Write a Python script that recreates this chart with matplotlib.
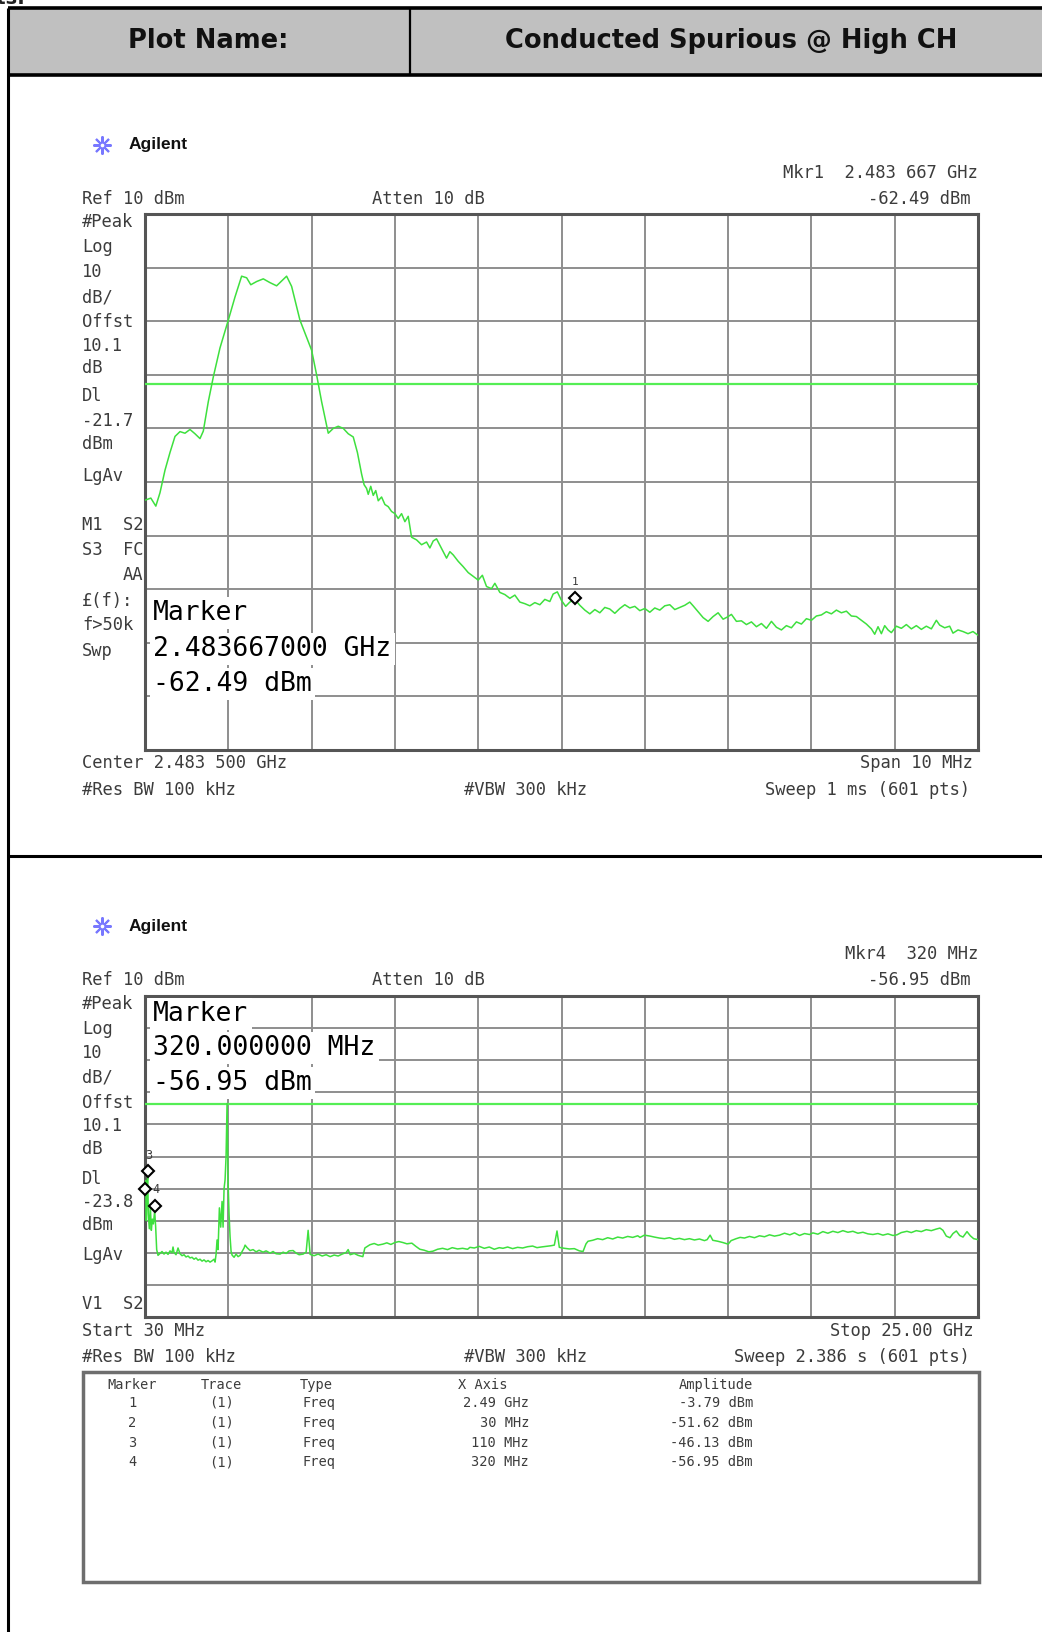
import numpy as np
import matplotlib
matplotlib.use("Agg")
import matplotlib.pyplot as plt
from matplotlib.patches import Rectangle
from matplotlib.transforms import offset_copy

W, H = 1042, 1632

# ---------------- data ----------------
header_left = "Plot Name:"
header_right = "Conducted Spurious @ High CH"

# Plot 1 : zoomed band edge, center 2483.5 MHz, span 10 MHz
p1_center_mhz = 2483.5
p1_span_mhz = 10.0
p1_offset_mhz = [0.00, 0.07, 0.13, 0.18, 0.24, 0.30, 0.36, 0.42, 0.48, 0.54, 0.60, 0.66, 0.70,
                 0.76, 0.82, 0.90, 1.00, 1.08, 1.16, 1.22, 1.27, 1.34, 1.42, 1.50, 1.58, 1.64,
                 1.70, 1.76, 1.86, 1.94, 2.00, 2.06, 2.12, 2.20, 2.26, 2.32, 2.38, 2.44, 2.50,
                 2.55, 2.60, 2.63, 2.66, 2.68, 2.71, 2.74, 2.77, 2.80, 2.84, 2.88, 2.92, 2.96,
                 3.00, 3.04, 3.08, 3.12, 3.16, 3.20, 3.26, 3.32, 3.38, 3.42, 3.46, 3.50, 3.56,
                 3.62, 3.66, 3.70, 3.76, 3.82, 3.88, 3.94, 4.00, 4.05, 4.10, 4.16, 4.20, 4.26,
                 4.32, 4.38, 4.44, 4.50, 4.56, 4.62, 4.68, 4.74, 4.80, 4.86, 4.90, 4.95, 5.00,
                 5.05, 5.10, 5.16, 5.22, 5.28, 5.34, 5.40, 5.46, 5.52, 5.58, 5.64, 5.70, 5.76,
                 5.82, 5.88, 5.94, 6.00, 6.06, 6.12, 6.18, 6.24, 6.30, 6.36, 6.42, 6.48, 6.54,
                 6.58, 6.64, 6.70, 6.76, 6.82, 6.88, 6.94, 6.99, 7.04, 7.10, 7.16, 7.22, 7.28,
                 7.34, 7.40, 7.46, 7.52, 7.58, 7.64, 7.70, 7.76, 7.82, 7.88, 7.94, 8.00, 8.06,
                 8.12, 8.18, 8.24, 8.30, 8.36, 8.42, 8.48, 8.54, 8.60, 8.66, 8.72, 8.76, 8.80,
                 8.84, 8.88, 8.92, 8.96, 9.02, 9.08, 9.14, 9.20, 9.26, 9.32, 9.38, 9.44, 9.50,
                 9.54, 9.60, 9.66, 9.70, 9.76, 9.82, 9.88, 9.94, 10.00]
p1_dbm = [-43.4, -43.0, -44.5, -42.0, -37.8, -34.5, -31.5, -30.6, -30.9, -30.2, -31.0, -31.9, -30.5,
          -25.0, -20.4, -15.0, -9.8, -5.5, -1.6, -1.9, -3.2, -2.6, -2.1, -2.8, -3.4, -2.5,
          -1.6, -3.5, -9.8, -13.0, -15.4, -20.0, -25.0, -30.9, -30.0, -29.6, -30.0, -31.0, -31.6,
          -34.5, -38.5, -40.5, -41.2, -42.3, -40.8, -42.5, -41.6, -43.5, -42.8, -44.2, -44.6, -45.5,
          -45.9, -46.8, -45.9, -47.4, -46.4, -50.3, -50.8, -51.7, -51.2, -52.3, -51.0, -50.6, -52.4,
          -54.2, -53.0, -53.6, -54.8, -55.8, -56.9, -57.6, -58.3, -57.4, -59.5, -59.9, -58.9, -60.6,
          -61.0, -61.7, -61.1, -62.4, -62.7, -63.1, -62.5, -62.9, -61.9, -62.3, -60.9, -60.5, -62.1,
          -63.2, -62.4, -61.9, -63.0, -63.9, -64.6, -63.8, -64.4, -63.4, -63.7, -64.5, -63.6, -62.9,
          -63.5, -63.2, -64.0, -63.6, -64.3, -63.5, -63.9, -63.1, -62.9, -63.8, -63.4, -63.0, -62.4,
          -63.1, -64.2, -65.3, -66.0, -65.1, -64.4, -65.6, -65.2, -64.7, -66.0, -65.9, -66.6, -66.1,
          -67.0, -66.4, -67.3, -66.0, -67.1, -67.6, -66.8, -67.2, -66.1, -66.5, -65.5, -65.8, -65.0,
          -64.8, -64.2, -64.6, -63.9, -64.4, -64.1, -65.0, -65.1, -65.8, -66.5, -67.4, -68.4, -67.0,
          -68.3, -66.8, -67.6, -68.1, -66.9, -67.3, -66.6, -67.4, -66.8, -67.5, -66.9, -67.4, -65.8,
          -66.7, -67.2, -66.9, -68.2, -67.6, -67.9, -68.3, -67.9, -68.6]
p1_display_line = -21.7
p1_marker_mhz = 2483.667
p1_marker_dbm = -62.49

# Plot 2 : 30 MHz - 25 GHz sweep
p2_start_ghz = 0.03
p2_stop_ghz = 25.0
p2_freq_ghz = [0.03, 0.05, 0.07, 0.09, 0.11, 0.13, 0.16, 0.19, 0.22, 0.25, 0.28, 0.32, 0.35, 0.38,
               0.42, 0.48, 0.54, 0.60, 0.66, 0.72, 0.78, 0.84, 0.87, 0.90, 0.96, 1.02, 1.08, 1.14,
               1.20, 1.26, 1.32, 1.38, 1.44, 1.50, 1.56, 1.62, 1.68, 1.74, 1.80, 1.86, 1.92, 1.98,
               2.04, 2.10, 2.13, 2.16, 2.19, 2.22, 2.26, 2.30, 2.34, 2.37, 2.40, 2.43, 2.46, 2.49,
               2.52, 2.55, 2.58, 2.61, 2.64, 2.70, 2.76, 2.82, 2.88, 2.94, 3.00, 3.03, 3.09, 3.18,
               3.27, 3.36, 3.45, 3.57, 3.66, 3.78, 3.87, 3.96, 4.08, 4.17, 4.26, 4.35, 4.47, 4.56,
               4.65, 4.77, 4.86, 4.92, 4.98, 5.10, 5.22, 5.34, 5.46, 5.58, 5.70, 5.82, 5.94, 6.06,
               6.12, 6.18, 6.30, 6.42, 6.56, 6.62, 6.77, 6.90, 7.02, 7.16, 7.28, 7.40, 7.52, 7.64,
               7.76, 7.88, 8.03, 8.15, 8.27, 8.40, 8.54, 8.66, 8.80, 8.95, 9.10, 9.24, 9.40, 9.55,
               9.70, 9.77, 9.90, 10.05, 10.20, 10.35, 10.50, 10.65, 10.76, 10.90, 11.05, 11.20,
               11.35, 11.50, 11.65, 11.78, 11.90, 12.05, 12.20, 12.30, 12.38, 12.45, 12.60, 12.75,
               12.90, 13.05, 13.16, 13.25, 13.31, 13.45, 13.60, 13.75, 13.90, 14.05, 14.20, 14.35,
               14.50, 14.65, 14.80, 14.87, 15.00, 15.17, 15.30, 15.45, 15.60, 15.75, 15.90, 16.05,
               16.20, 16.35, 16.50, 16.65, 16.80, 16.88, 16.97, 17.05, 17.20, 17.35, 17.51, 17.60,
               17.75, 17.87, 18.00, 18.15, 18.30, 18.45, 18.60, 18.75, 18.90, 19.05, 19.20, 19.36,
               19.50, 19.65, 19.80, 19.95, 20.05, 20.20, 20.35, 20.50, 20.65, 20.80, 20.95, 21.10,
               21.25, 21.40, 21.55, 21.70, 21.85, 22.00, 22.15, 22.30, 22.45, 22.57, 22.70, 22.87,
               23.00, 23.15, 23.30, 23.45, 23.60, 23.75, 23.86, 23.95, 24.05, 24.16, 24.25, 24.35,
               24.45, 24.55, 24.67, 24.77, 24.87, 25.00]
p2_dbm = [-51.6, -47.5, -60.0, -50.0, -46.1, -58.0, -62.5, -55.5, -63.0, -59.5, -61.0, -57.0, -62.0, -69.0,
          -70.8, -70.2, -69.6, -70.4, -69.8, -70.5, -69.4, -70.0, -68.2, -69.9, -70.6, -68.5, -70.3, -70.9,
          -70.6, -71.3, -71.0, -71.6, -71.4, -72.0, -71.6, -72.3, -72.0, -72.6, -72.2, -72.8, -72.4, -72.9,
          -72.5, -72.0, -72.9, -70.5, -66.0, -69.0, -56.0, -62.0, -54.0, -62.0, -50.0, -47.3, -40.0, -23.5,
          -48.0, -58.0, -65.0, -69.5, -70.7, -71.4, -70.4, -71.2, -70.8, -69.6, -68.5, -67.6, -68.4, -69.3,
          -69.0, -69.7, -69.2, -69.8, -69.4, -70.1, -69.6, -70.3, -70.4, -69.8, -70.2, -69.4, -69.3, -70.1,
          -70.6, -70.4, -69.8, -63.0, -70.5, -70.9, -70.4, -71.0, -70.6, -71.2, -70.7, -71.0, -70.4, -69.9,
          -69.0, -70.6, -70.2, -70.8, -71.2, -68.5, -67.5, -67.1, -67.6, -67.3, -66.9, -67.4, -66.8, -66.5,
          -66.8, -67.2, -67.0, -68.0, -68.9, -69.2, -69.7, -69.5, -68.9, -68.6, -69.0, -68.4, -68.8, -68.6,
          -68.9, -68.3, -68.5, -68.0, -68.6, -68.2, -68.9, -68.4, -68.6, -68.2, -68.7, -68.3,
          -68.5, -68.1, -67.9, -68.4, -68.2, -68.0, -67.8, -67.6, -63.2, -68.3, -68.6, -68.8,
          -68.7, -69.4, -69.6, -67.2, -66.4, -66.1, -65.6, -65.9, -65.3, -65.7, -65.1, -65.4,
          -64.9, -65.2, -64.7, -65.2, -64.5, -64.8, -65.1, -65.4, -65.6, -65.3, -65.8, -65.5,
          -65.9, -65.6, -66.0, -65.7, -66.2, -65.9, -64.5, -66.1, -66.4, -66.8, -67.3, -66.2,
          -65.6, -65.2, -65.4, -64.9, -65.3, -64.7, -65.0, -64.4, -64.8, -64.5, -63.9, -64.4,
          -63.8, -64.6, -64.0, -64.3, -63.8, -64.2, -63.4, -63.9, -63.3, -63.7, -63.1, -63.6,
          -63.3, -63.9, -63.6, -64.1, -64.3, -64.0, -64.5, -64.1, -64.6, -64.4, -63.7, -63.3,
          -63.7, -63.1, -63.4, -62.8, -63.1, -62.6, -62.3, -63.0, -64.8, -65.3, -64.0, -63.2,
          -64.6, -65.1, -63.4, -64.7, -65.6, -65.9]
p2_display_line = -23.8
p2_marker_ids = ["2", "3", "4"]
p2_marker_ghz = [0.03, 0.11, 0.32]
p2_marker_dbm = [-51.62, -46.13, -56.95]
p2_marker_show_label = [False, True, True]

table_cols = ["Marker", "Trace", "Type", "X Axis", "Amplitude"]
table_marker = ["1", "2", "3", "4"]
table_trace = ["(1)", "(1)", "(1)", "(1)"]
table_type = ["Freq", "Freq", "Freq", "Freq"]
table_xaxis = ["2.49 GHz", "30 MHz", "110 MHz", "320 MHz"]
table_amp = ["-3.79 dBm", "-51.62 dBm", "-46.13 dBm", "-56.95 dBm"]

# ---------------- figure ----------------
fig = plt.figure(figsize=(W / 100, H / 100), dpi=100)
fig.patch.set_facecolor("white")

def ax_rect(x0, y0, x1, y1):
    return [x0 / W, 1 - y1 / H, (x1 - x0) / W, (y1 - y0) / H]

bg = fig.add_axes([0, 0, 1, 1], zorder=0)
bg.set_xlim(0, W); bg.set_ylim(H, 0); bg.axis("off")

ax1 = fig.add_axes(ax_rect(145, 214, 978, 750), zorder=2)
ax2 = fig.add_axes(ax_rect(145, 996, 978, 1317), zorder=2)

ov = fig.add_axes([0, 0, 1, 1], zorder=10)
ov.set_xlim(0, W); ov.set_ylim(H, 0); ov.axis("off")

# ---- report table frame ----
bg.add_patch(Rectangle((8, 8), W - 8, 67, facecolor="#c0c0c0", edgecolor="none"))
LK = "black"
bg.plot([8, W], [8, 8], color=LK, lw=2.6, solid_capstyle="butt")
bg.plot([8, W], [75, 75], color=LK, lw=2.6, solid_capstyle="butt")
bg.plot([8, W], [856, 856], color=LK, lw=2.2, solid_capstyle="butt")
bg.plot([8, 8], [8, H], color=LK, lw=2.2, solid_capstyle="butt")
bg.plot([410, 410], [8, 75], color=LK, lw=1.6, solid_capstyle="butt")
bg.text(25, 4, "Plots:", ha="right", va="baseline", fontsize=14, fontweight="bold", color="#222222")
bg.text(208, 41, header_left, ha="center", va="center", fontsize=18.5, fontweight="bold",
        family="DejaVu Sans", color="#111111")
bg.text(731, 41, header_right, ha="center", va="center", fontsize=18.5, fontweight="bold",
        family="DejaVu Sans", color="#111111")

TRACE = "#3ee03e"
DLINE = "#55ee55"
GRID = "#8e8e8e"
SPINE = "#555555"
MONO = "DejaVu Sans Mono"
TXT = "#3c3c3c"


def style_axes(ax, xmin, xmax):
    ax.set_xlim(xmin, xmax)
    ax.set_ylim(-90, 10)
    ax.set_xticks(np.linspace(xmin, xmax, 11))
    ax.set_yticks(np.arange(-90, 11, 10))
    ax.tick_params(length=0, labelbottom=False, labelleft=False)
    ax.grid(True, color=GRID, lw=1.4)
    ax.set_axisbelow(True)
    for s in ax.spines.values():
        s.set_color(SPINE)
        s.set_linewidth(2.2)


# ---- plot 1 ----
p1_start = p1_center_mhz - p1_span_mhz / 2
p1_freq = [p1_start + o for o in p1_offset_mhz]
style_axes(ax1, p1_start, p1_start + p1_span_mhz)
ax1.axhline(p1_display_line, color=DLINE, lw=1.6, zorder=3)
ax1.plot(p1_freq, p1_dbm, color=TRACE, lw=1.1, zorder=4)
mk_tr1 = offset_copy(ax1.transData, fig=fig, x=0, y=5, units="dots")
lb_tr1 = offset_copy(ax1.transData, fig=fig, x=0, y=21, units="dots")
ax1.plot([p1_marker_mhz], [p1_marker_dbm], marker="D", ms=6.5, mfc="white", mec="black", mew=1.5,
         transform=mk_tr1, zorder=6, clip_on=False)
ax1.text(p1_marker_mhz, p1_marker_dbm, "1", transform=lb_tr1, ha="center", va="center",
         fontsize=8, family=MONO, color=TXT, zorder=6)

# ---- plot 2 ----
style_axes(ax2, p2_start_ghz, p2_stop_ghz)
ax2.axhline(p2_display_line, color=DLINE, lw=1.6, zorder=3)
ax2.plot(p2_freq_ghz, p2_dbm, color=TRACE, lw=1.1, zorder=4)
mk_tr2 = offset_copy(ax2.transData, fig=fig, x=0, y=5, units="dots")
lb_tr2 = offset_copy(ax2.transData, fig=fig, x=1, y=21, units="dots")
for mid, f, a, show in zip(p2_marker_ids, p2_marker_ghz, p2_marker_dbm, p2_marker_show_label):
    ax2.plot([f], [a], marker="D", ms=6.5, mfc="white", mec="black", mew=1.5,
             transform=mk_tr2, zorder=6, clip_on=False)
    if show:
        ax2.text(f, a, mid, transform=lb_tr2, ha="center", va="center", fontsize=8.5,
                 family=MONO, color=TXT, zorder=6)


# ---- instrument annotations ----
def t(x, y, s, ha="left", size=12.3, color=TXT, **kw):
    ov.text(x, y, s, ha=ha, va="center", fontsize=size, family=MONO, color=color, **kw)


def logo(y):
    ov.plot([102], [y], marker=(8, 2, 0), ms=13, color="#7878ff", mew=1.5)
    ov.plot([102], [y], marker="o", ms=3.5, color="white", mec="#7878ff", mew=0.8)
    ov.text(129, y, "Agilent", ha="left", va="center", fontsize=12.5, fontweight="bold",
            family="Liberation Sans", color="#111111")


BOX = dict(facecolor="white", edgecolor="none", pad=2.5)
MS = 19.0

# plot 1 texts
logo(145)
t(978, 173, "Mkr1  2.483 667 GHz", ha="right")
t(970, 199, "-62.49 dBm", ha="right")
t(82, 199, "Ref 10 dBm")
t(372, 199, "Atten 10 dB")
left1 = [(222, "#Peak"), (247, "Log"), (272, "10"), (297, "dB/"), (322, "Offst"), (346, "10.1"),
         (368, "dB"), (396, "Dl"), (421, "-21.7"), (444, "dBm"), (476, "LgAv"), (525, "M1  S2"),
         (550, "S3  FC"), (601, "£(f):"), (625, "f>50k"), (651, "Swp")]
for yy, s in left1:
    t(82, yy, s)
t(143, 575, "AA", ha="right")
t(153, 613, "Marker", size=MS, color="black", bbox=BOX)
t(153, 649, "2.483667000 GHz", size=MS, color="black", bbox=BOX)
t(153, 684, "-62.49 dBm", size=MS, color="black", bbox=BOX)
t(82, 763, "Center 2.483 500 GHz")
t(973, 763, "Span 10 MHz", ha="right")
t(82, 790, "#Res BW 100 kHz")
t(464, 790, "#VBW 300 kHz")
t(970, 790, "Sweep 1 ms (601 pts)", ha="right")

# plot 2 texts
logo(926)
t(978, 954, "Mkr4  320 MHz", ha="right")
t(970, 980, "-56.95 dBm", ha="right")
t(82, 980, "Ref 10 dBm")
t(372, 980, "Atten 10 dB")
left2 = [(1004, "#Peak"), (1029, "Log"), (1053, "10"), (1078, "dB/"), (1103, "Offst"), (1126, "10.1"),
         (1149, "dB"), (1179, "Dl"), (1202, "-23.8"), (1225, "dBm"), (1255, "LgAv"), (1304, "V1  S2")]
for yy, s in left2:
    t(82, yy, s)
t(153, 1014, "Marker", size=MS, color="black", bbox=BOX)
t(153, 1048, "320.000000 MHz", size=MS, color="black", bbox=BOX)
t(153, 1083, "-56.95 dBm", size=MS, color="black", bbox=BOX)
t(82, 1331, "Start 30 MHz")
t(973, 1331, "Stop 25.00 GHz", ha="right")
t(82, 1357, "#Res BW 100 kHz")
t(464, 1357, "#VBW 300 kHz")
t(970, 1357, "Sweep 2.386 s (601 pts)", ha="right")

# marker table
ov.add_patch(Rectangle((83, 1372), 896, 210, facecolor="white", edgecolor="#6e6e6e", lw=2.5))
TS = 9.8
t(132, 1385, table_cols[0], ha="center", size=TS)
t(221, 1385, table_cols[1], ha="center", size=TS)
t(300, 1385, table_cols[2], ha="left", size=TS)
t(458, 1385, table_cols[3], ha="left", size=TS)
t(753, 1385, table_cols[4], ha="right", size=TS)
row_y = [1403, 1423, 1443, 1462]
for yy, m, tr, ty, xa, am in zip(row_y, table_marker, table_trace, table_type, table_xaxis, table_amp):
    t(132, yy, m, ha="center", size=TS)
    t(221, yy, tr, ha="center", size=TS)
    t(303, yy, ty, ha="left", size=TS)
    t(529, yy, xa, ha="right", size=TS)
    t(753, yy, am, ha="right", size=TS)

fig.savefig("out.png", dpi=100, facecolor="white")
